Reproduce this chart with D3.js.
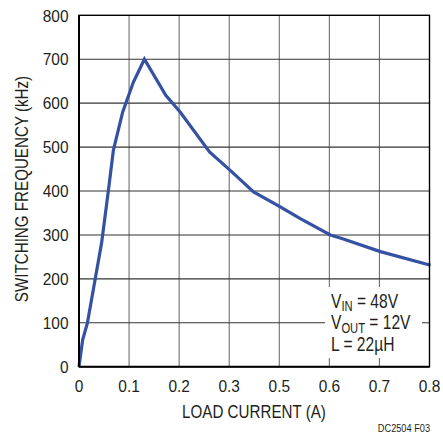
<!DOCTYPE html>
<html><head><meta charset="utf-8">
<script src="https://cdn.jsdelivr.net/npm/d3@7"></script>
<style>
body{margin:0;background:#fff}
text{font-family:"Liberation Sans",Arial,sans-serif;fill:#231f20}
</style></head><body>
<script>
// x tick positions (grid units) and their printed labels (the original skips 0.4)
const xTickPos = [0,0.1,0.2,0.3,0.4,0.5,0.6,0.7];
const xTickLabels = ['0','0.1','0.2','0.3','0.5','0.6','0.7','0.8'];
const yTicks = [0,100,200,300,400,500,600,700,800];
// curve, x in grid units along the axis
const current = [0,0.0073,0.0167,0.0453,0.0587,0.0687,0.0873,0.1087,0.1307,0.1733,0.202,0.2607,0.302,0.3487,0.402,0.442,0.502,0.525,0.602,0.702];
const frequency = [0,61,99,283,401,493,580,648,700,618,580,489,447,398,364,337,300,292,262,231];
const legendLines = [["V","IN"," = 48V"],["V","OUT"," = 12V"],["L = 22µH","",""]];

const W=443,H=437;
const svg=d3.select("body").append("svg").attr("width",W).attr("height",H);
const x=d3.scaleLinear().domain([0,0.7]).range([79,429.5]);
const y=d3.scaleLinear().domain([0,800]).range([366.7,15.3]);
const NARROW=0.82;

// grid
svg.append("g").selectAll("line").data(xTickPos.slice(1,-1)).join("line")
  .attr("x1",d=>x(d)).attr("x2",d=>x(d)).attr("y1",y(800)).attr("y2",y(0))
  .attr("stroke","#707070").attr("stroke-width",1.1);
svg.append("g").selectAll("line").data(yTicks.slice(1,-1)).join("line")
  .attr("x1",x(0)).attr("x2",x(0.7)).attr("y1",d=>y(d)).attr("y2",d=>y(d))
  .attr("stroke","#333").attr("stroke-width",1.1);

// legend mask
svg.append("rect").attr("x",325).attr("y",287).attr("width",97).attr("height",71).attr("fill","#fff");

// curve
svg.append("path").datum(current.map((c,i)=>[c,frequency[i]]))
  .attr("d",d3.line().x(d=>x(d[0])).y(d=>y(d[1])))
  .attr("fill","none").attr("stroke","#3551a3").attr("stroke-width",3.2).attr("stroke-linejoin","miter");

// frame
svg.append("rect").attr("x",x(0)).attr("y",y(800)).attr("width",x(0.7)-x(0)).attr("height",y(0)-y(800))
  .attr("fill","none").attr("stroke","#000").attr("stroke-width",1.4);
svg.append("line").attr("x1",x(0)).attr("x2",x(0)).attr("y1",y(800)).attr("y2",y(0)).attr("stroke","#000").attr("stroke-width",2);
svg.append("line").attr("x1",x(0)).attr("x2",x(0.7)).attr("y1",y(0)).attr("y2",y(0)).attr("stroke","#000").attr("stroke-width",2);

// tick labels
svg.append("g").selectAll("text").data(xTickPos).join("text")
  .attr("transform",d=>`translate(${x(d)},392) scale(0.92,1)`).attr("text-anchor","middle").attr("font-size",16.8)
  .text((d,i)=>xTickLabels[i]);
svg.append("g").selectAll("text").data(yTicks).join("text")
  .attr("transform",d=>`translate(68.5,${y(d)+6.2}) scale(0.92,1)`).attr("text-anchor","end").attr("font-size",16.8)
  .text(d=>d);

// axis titles
svg.append("text").attr("transform",`translate(254,418) scale(${NARROW},1)`).attr("text-anchor","middle").attr("font-size",18.5).text("LOAD CURRENT (A)");
svg.append("text").attr("transform","translate(27.5,189) rotate(-90) scale(0.82,1)").attr("text-anchor","middle").attr("font-size",18.5).text("SWITCHING FREQUENCY (kHz)");

// legend text
const lg=svg.append("g");
legendLines.forEach((l,i)=>{
  const t=lg.append("text").attr("transform",`translate(331,${307.5+i*21.5}) scale(0.8,1)`).attr("font-size",19.5);
  t.append("tspan").text(l[0]);
  if(l[1]){ t.append("tspan").attr("font-size",14).attr("dy",3.5).text(l[1]);
    t.append("tspan").attr("dy",-3.5).text(l[2]); }
});

svg.append("text").attr("transform","translate(430,432) scale(0.8,1)").attr("text-anchor","end").attr("font-size",11.5).text("DC2504 F03");
</script>
</body></html>
